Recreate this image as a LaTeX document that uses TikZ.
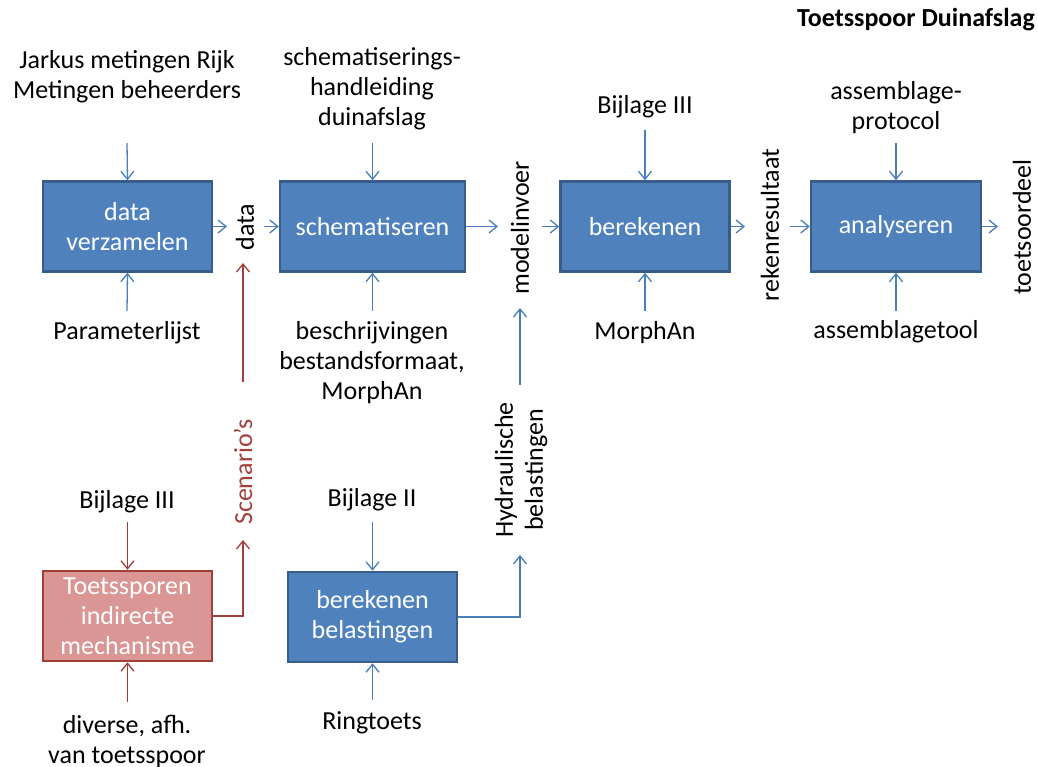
\documentclass[tikz,border=0pt]{standalone}
\usepackage{fontspec}
\setmainfont{Carlito}
\usetikzlibrary{arrows.meta}
\definecolor{boxfill}{HTML}{4F81BD}
\definecolor{boxline}{HTML}{385D8A}
\definecolor{arrblue}{HTML}{4A7EBB}
\definecolor{redfill}{HTML}{D99694}
\definecolor{redline}{HTML}{A23E3C}
\tikzset{
  every node/.style={font=\fontsize{26}{30}\selectfont, inner sep=0pt},
  procbox/.style={draw=boxline, line width=2.5pt, fill=boxfill, text=white,
    minimum width=169pt, minimum height=90pt, align=center},
  redbox/.style={draw=redline, line width=2.5pt, fill=redfill, text=white,
    minimum width=169pt, minimum height=90pt, align=center},
  lbl/.style={align=center, text=black},
  vlbl/.style={align=center, text=black, rotate=90},
  barrow/.style={draw=arrblue, line width=1.3pt, -{Straight Barb[length=8pt,width=13pt,line width=1.3pt]}},
  rarrow/.style={draw=redline, line width=1.3pt, -{Straight Barb[length=8pt,width=13pt,line width=1.3pt]}},
}
\begin{document}
\begin{tikzpicture}[x=1pt,y=-1pt]
\useasboundingbox (0,0) rectangle (1038,767);

% title
\node[anchor=east, font=\fontsize{26}{30}\selectfont\bfseries] (title) at (1035,20) {Toetsspoor Duinafslag};

% boxes
\node[procbox] (dv) at (127.5,226.5) {data\\verzamelen};
\node[procbox, minimum width=185pt] (sch) at (372.5,226.5) {schematiseren};
\node[procbox] (ber) at (645,226.5) {berekenen};
\node[procbox, minimum width=170pt] (ana) at (896,226.5) {analyseren};
\node[redbox] (tim) at (127.5,616) {Toetssporen\\indirecte\\mechanisme};
\node[procbox] (bb) at (372.5,617) {berekenen\\belastingen};

% labels
\node[lbl] (jarkus) at (127,77) {Jarkus metingen Rijk\\Metingen beheerders};
\node[lbl] (param) at (127,333) {Parameterlijst};
\node[vlbl] (data) at (245,227) {data};
\node[lbl] (schh) at (372,89) {schematiserings-\\handleiding\\duinafslag};
\node[lbl] (besch) at (372,363) {beschrijvingen\\bestandsformaat,\\MorphAn};
\node[vlbl] (modin) at (520,228) {modelinvoer};
\node[lbl] (bij3a) at (645,107) {Bijlage III};
\node[lbl] (morph) at (645,333) {MorphAn};
\node[vlbl] (rek) at (770,225) {rekenresultaat};
\node[lbl] (asprot) at (896,108) {assemblage-\\protocol};
\node[lbl] (astool) at (896,332) {assemblagetool};
\node[vlbl] (toets) at (1022,227) {toetsoordeel};
\node[lbl] (bij3b) at (127,502) {Bijlage III};
\node[lbl] (divers) at (127,741) {diverse, afh.\\van toetsspoor};
\node[vlbl, text=redline] (scen) at (243,472) {Scenario’s};
\node[lbl] (bij2) at (372,500) {Bijlage II};
\node[lbl] (ring) at (372,723) {Ringtoets};
\node[vlbl] (hydr) at (521,470) {Hydraulische\\belastingen};

% free ends
\coordinate (c1) at (127,143);
\coordinate (c2) at (127,311);
\coordinate (c3) at (227,226.5);
\coordinate (c4) at (264,226.5);
\coordinate (c5) at (372.5,143);
\coordinate (c6) at (372.5,311);
\coordinate (c7) at (498,226.5);
\coordinate (c8) at (542,226.5);
\coordinate (c9) at (645,130);
\coordinate (c10) at (645,311);
\coordinate (c11) at (745,226.5);
\coordinate (c12) at (790,226.5);
\coordinate (c13) at (896,143);
\coordinate (c14) at (896,311);
\coordinate (c15) at (998,226.5);
\coordinate (r1) at (127.5,522);
\coordinate (r2) at (127.5,702);
\coordinate (r3) at (243,540);
\coordinate (r4) at (243,382);
\coordinate (r5) at (243,263);
\coordinate (b1) at (372.5,522);
\coordinate (b2) at (372.5,700);
\coordinate (b3) at (520,555);
\coordinate (b4) at (520,385);
\coordinate (b5) at (520,308);

% blue connectors
\draw[barrow] (c1) -- (dv.north);
\draw[barrow] (c2) -- (dv.south);
\draw[barrow] (dv.east) -- (c3);
\draw[barrow] (c4) -- (sch.west);
\draw[barrow] (c5) -- (sch.north);
\draw[barrow] (c6) -- (sch.south);
\draw[barrow] (sch.east) -- (c7);
\draw[barrow] (c8) -- (ber.west);
\draw[barrow] (c9) -- (ber.north);
\draw[barrow] (c10) -- (ber.south);
\draw[barrow] (ber.east) -- (c11);
\draw[barrow] (c12) -- (ana.west);
\draw[barrow] (c13) -- (ana.north);
\draw[barrow] (c14) -- (ana.south);
\draw[barrow] (ana.east) -- (c15);
\draw[barrow] (b1) -- (bb.north);
\draw[barrow] (b2) -- (bb.south);
\draw[barrow] (bb.east) -| (b3);
\draw[barrow] (b4) -- (b5);

% red connectors
\draw[rarrow] (r1) -- (tim.north);
\draw[rarrow] (r2) -- (tim.south);
\draw[rarrow] (tim.east) -| (r3);
\draw[rarrow] (r4) -- (r5);
\end{tikzpicture}
\end{document}
